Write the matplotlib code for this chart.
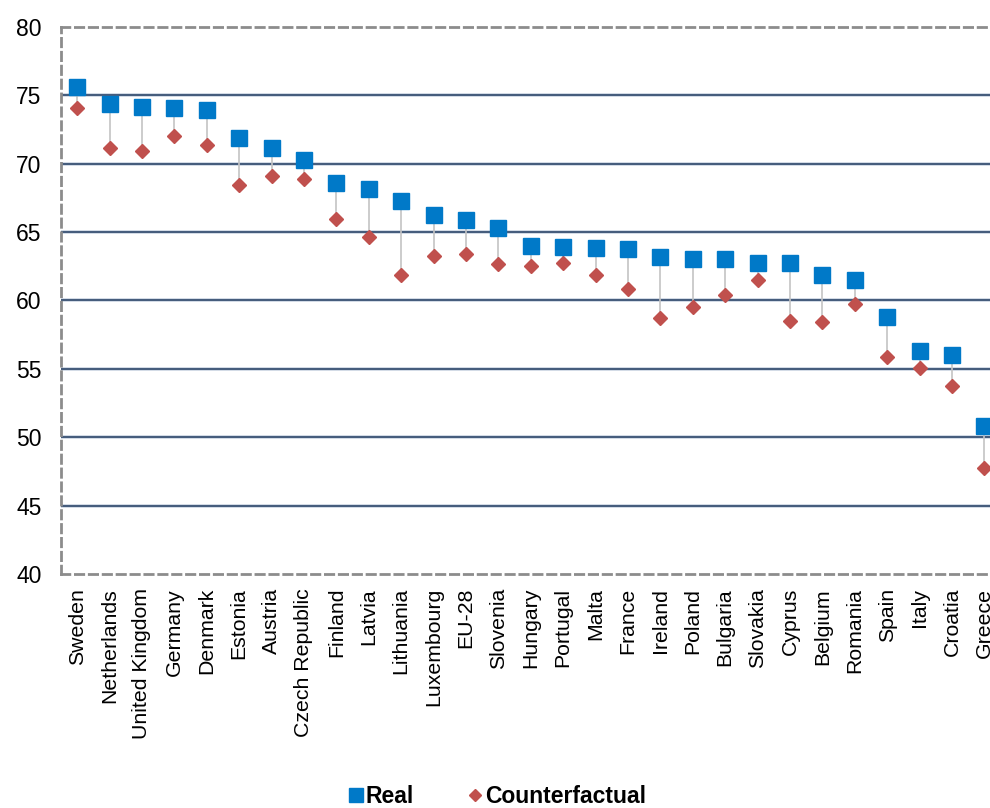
import matplotlib.pyplot as plt
import numpy as np

plt.rcParams['font.family'] = ['Liberation Sans', 'DejaVu Sans']

# employment rate by country, real vs counterfactual
countries = ['Sweden', 'Netherlands', 'United Kingdom', 'Germany', 'Denmark',
             'Estonia', 'Austria', 'Czech Republic', 'Finland', 'Latvia',
             'Lithuania', 'Luxembourg', 'EU-28', 'Slovenia', 'Hungary',
             'Portugal', 'Malta', 'France', 'Ireland', 'Poland', 'Bulgaria',
             'Slovakia', 'Cyprus', 'Belgium', 'Romania', 'Spain', 'Italy',
             'Croatia', 'Greece']
real = [75.6, 74.4, 74.15, 74.1, 73.9, 71.9, 71.15, 70.3, 68.6, 68.15,
        67.3, 66.25, 65.9, 65.3, 64.0, 63.9, 63.85, 63.8, 63.2, 63.0, 63.0,
        62.75, 62.75, 61.85, 61.5, 58.8, 56.3, 56.0, 50.8]
counterfactual = [74.1, 71.15, 70.9, 72.0, 71.4, 68.45, 69.1, 68.9, 65.95,
                  64.65, 61.85, 63.25, 63.4, 62.7, 62.5, 62.75, 61.9, 60.85,
                  58.7, 59.5, 60.4, 61.5, 58.5, 58.45, 59.75, 55.85, 55.1,
                  53.75, 47.75]
yticks = [40, 45, 50, 55, 60, 65, 70, 75, 80]

fig = plt.figure(figsize=(9.9, 8.08), dpi=100)
ax = fig.add_axes([0.0616, 0.2896, 0.949, 0.677])

x = np.arange(len(countries))
ax.vlines(x, counterfactual, real, color='#C4C4C4', linewidth=1.2, zorder=2)
ax.plot(x, real, linestyle='none', marker='s', markersize=12.2,
        color='#0079C8', label='Real', zorder=4)
ax.plot(x, counterfactual, linestyle='none', marker='D', markersize=7.6,
        color='#C0504D', label='Counterfactual', zorder=3)

ax.set_xlim(-0.5, len(countries) - 0.5)
ax.set_ylim(40, 80)
ax.set_yticks(yticks)
ax.set_xticks(x)
ax.set_xticklabels(countries, rotation=90, fontsize=15.3)
ax.tick_params(axis='y', length=0, pad=14, labelsize=16.5)
ax.tick_params(axis='x', length=0, pad=10)

for y in yticks[1:-1]:
    ax.axhline(y, color='#C9D3E0', linewidth=2.6, zorder=1)
    ax.axhline(y, color='#1F3A5F', linewidth=1.1, zorder=1)

for side in ['left', 'top', 'bottom']:
    ax.spines[side].set_linestyle((0, (3, 2)))
    ax.spines[side].set_color('#8C8C8C')
    ax.spines[side].set_linewidth(2)
ax.spines['right'].set_visible(False)

fig.legend(loc='center', bbox_to_anchor=(0.503, 0.0142), ncol=2, frameon=False,
           prop={'weight': 'bold', 'size': 16.5}, handlelength=0.5,
           handletextpad=0.2, columnspacing=2.4, borderpad=0,
           markerscale=0.85)

fig.savefig('out.png', dpi=100)
